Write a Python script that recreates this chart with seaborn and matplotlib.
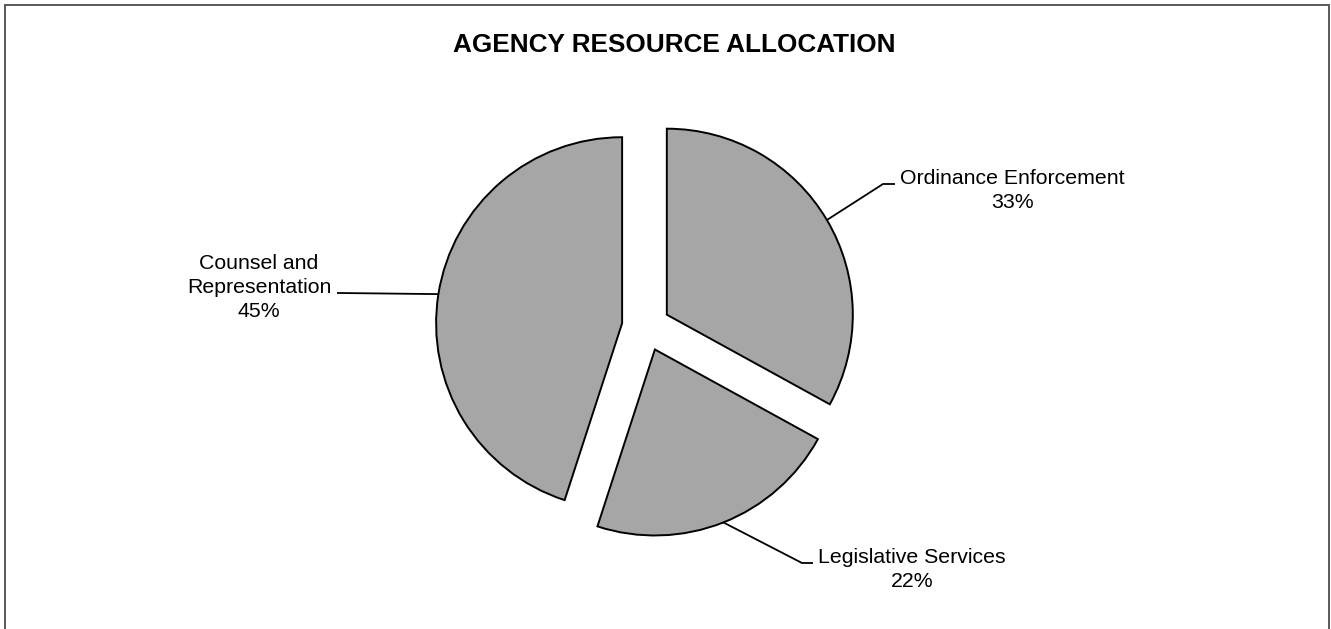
import numpy as np
import matplotlib
matplotlib.use("Agg")
import matplotlib.pyplot as plt
from matplotlib.patches import Rectangle
import seaborn as sns

# Budget shares by program area
categories = ["Ordinance Enforcement", "Legislative Services", "Counsel and Representation"]
shares = [33, 22, 45]
label_lines = ["Ordinance Enforcement", "Legislative Services", "Counsel and\nRepresentation"]

sns.set_theme(style="white")
plt.rcParams["font.family"] = ["Liberation Sans", "DejaVu Sans"]

W, H = 1331, 629
fig = plt.figure(figsize=(W / 100, H / 100), dpi=100)
fig.patch.set_facecolor("white")

# pie geometry in pixels
cx, cy, R = 646, 327, 186
half = 300
ax = fig.add_axes([(cx - half) / W, (H - cy - half) / H, 2 * half / W, 2 * half / H])
lim = half / R

wedges, _ = ax.pie(
    shares,
    startangle=90,
    counterclock=False,
    explode=[0.13] * len(shares),
    colors=["#a6a6a6"] * len(shares),
    wedgeprops=dict(edgecolor="black", linewidth=1.4),
    radius=1.0,
)
ax.set_xlim(-lim, lim)
ax.set_ylim(-lim, lim)
ax.set_aspect("equal")
ax.axis("off")


def px(x, y):
    return (x - cx) / R, (cy - y) / R


# label placement: (elbow, end of leader, text centre)
layout = {
    "Ordinance Enforcement": ((883, 184), (895, 184), (1012, 190.5)),
    "Legislative Services": ((802, 563), (813, 563), (912, 569.5)),
    "Counsel and Representation": ((340, 293), (337, 293), (259, 287.5)),
}

for w, name, lines, val in zip(wedges, categories, label_lines, shares):
    mid = np.deg2rad((w.theta1 + w.theta2) / 2)
    sx = w.center[0] + w.r * np.cos(mid)
    sy = w.center[1] + w.r * np.sin(mid)
    elbow, end, tc = layout[name]
    ex, ey = px(*elbow)
    nx, ny = px(*end)
    ax.plot([sx, ex, nx], [sy, ey, ny], color="black", lw=1.3, clip_on=False,
            solid_capstyle="butt", solid_joinstyle="miter")
    tx, ty = px(*tc)
    ax.text(tx, ty, f"{lines}\n{val}%", ha="center", va="center",
            multialignment="center", fontsize=15.3, color="black",
            linespacing=1.32)

fig.text(674 / W, 1 - 45.5 / H, "AGENCY RESOURCE ALLOCATION", ha="center",
         va="center", fontsize=18.8, fontweight="bold", color="black")

# outer frame (open at the bottom edge of the image)
fig.patches.append(Rectangle((5 / W, -0.05), 1324 / W, 1.05 - 5 / H,
                             transform=fig.transFigure, fill=False,
                             edgecolor="#4d4d4d", linewidth=1.3))

fig.savefig("out.png", dpi=100, facecolor="white")
